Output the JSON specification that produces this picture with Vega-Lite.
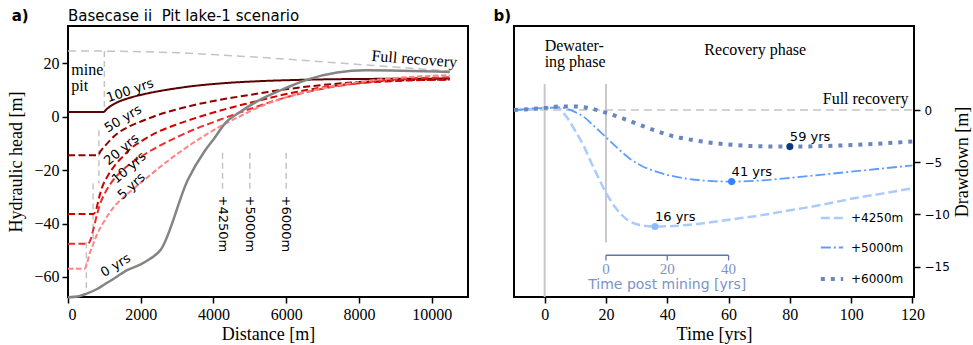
{
  "$schema": "https://vega.github.io/schema/vega-lite/v6.json",
  "padding": {"left": 6, "top": 8, "right": 0, "bottom": 0},
  "spacing": 23,
  "resolve": {"scale": {"color": "independent", "strokeDash": "independent", "fill": "independent"}, "legend": {"color": "independent", "strokeDash": "independent", "fill": "independent"}},
  "config": {
    "view": {"stroke": "#000000", "strokeWidth": 2},
    "axis": {"grid": false, "domain": false, "tickColor": "#000000", "tickWidth": 1.5, "tickSize": 6, "labelColor": "#000000", "titleColor": "#000000", "labelFont": "Liberation Serif", "labelFontSize": 16, "titleFont": "Liberation Serif", "titleFontSize": 18, "titleFontWeight": "normal", "labelPadding": 3, "titlePadding": 3},
    "legend": {"orient": "bottom-right", "offset": 10, "padding": 0, "symbolType": "stroke", "symbolSize": 500, "labelFont": "DejaVu Sans", "labelFontSize": 12, "labelColor": "#000000", "labelOffset": 13, "rowPadding": 17.5},
    "text": {"font": "DejaVu Sans", "fontSize": 13, "color": "#000000"}
  },
  "datasets": {
    "fullA": [
      {"x": 0, "y": 24.6}, {"x": 1000, "y": 24.6}, {"x": 2000, "y": 24.4}, {"x": 3000, "y": 24.0}, {"x": 4000, "y": 23.3}, {"x": 5000, "y": 22.5}, {"x": 6000, "y": 21.6}, {"x": 7000, "y": 20.6}, {"x": 8000, "y": 19.6}, {"x": 9000, "y": 18.6}, {"x": 10500, "y": 17.1}
    ],
    "pitA": [
      {"x": 1000, "y1": 24.6, "y2": 2},
      {"x": 850, "y1": -5, "y2": -25},
      {"x": 690, "y1": -25, "y2": -47},
      {"x": 505, "y1": -47, "y2": -65.5}
    ],
    "obsA": [
      {"x": 4250, "y1": -13.5, "y2": -27, "label": "+4250m"},
      {"x": 5000, "y1": -13.5, "y2": -27, "label": "+5000m"},
      {"x": 6000, "y1": -13.5, "y2": -27, "label": "+6000m"}
    ],
    "zeroA": [
      {"x": 0, "y": -67.6}, {"x": 300, "y": -67.2}, {"x": 500, "y": -66.3}, {"x": 800, "y": -64.5}, {"x": 1000, "y": -62.8}, {"x": 1300, "y": -60.3}, {"x": 1600, "y": -57.6}, {"x": 2000, "y": -55.3}, {"x": 2250, "y": -53.3}, {"x": 2550, "y": -49.8}, {"x": 3300, "y": -23.5}, {"x": 3750, "y": -13}, {"x": 4000, "y": -8.5}, {"x": 4350, "y": -2}, {"x": 4700, "y": 1.5}, {"x": 5300, "y": 6.5}, {"x": 6000, "y": 10.8}, {"x": 6600, "y": 14}, {"x": 8200, "y": 17.4}, {"x": 10500, "y": 16.8}
    ],
    "headA": [
      {"s": "100 yrs", "x": 0, "y": 1.8}, {"s": "100 yrs", "x": 980, "y": 1.8}, {"s": "100 yrs", "x": 1050, "y": 2.7}, {"s": "100 yrs", "x": 1150, "y": 3.8}, {"s": "100 yrs", "x": 1330, "y": 5.25}, {"s": "100 yrs", "x": 1700, "y": 7.1}, {"s": "100 yrs", "x": 2100, "y": 8.5}, {"s": "100 yrs", "x": 2500, "y": 9.6}, {"s": "100 yrs", "x": 3000, "y": 10.7}, {"s": "100 yrs", "x": 3500, "y": 11.6}, {"s": "100 yrs", "x": 4300, "y": 12.6}, {"s": "100 yrs", "x": 5200, "y": 13.3}, {"s": "100 yrs", "x": 6300, "y": 13.8}, {"s": "100 yrs", "x": 7500, "y": 14.1}, {"s": "100 yrs", "x": 10500, "y": 14.3},
      {"s": "50 yrs", "x": 0, "y": -14.4}, {"s": "50 yrs", "x": 820, "y": -14.4}, {"s": "50 yrs", "x": 900, "y": -12.8}, {"s": "50 yrs", "x": 1050, "y": -10.4}, {"s": "50 yrs", "x": 1300, "y": -6.9}, {"s": "50 yrs", "x": 1700, "y": -3.5}, {"s": "50 yrs", "x": 2000, "y": -1.8}, {"s": "50 yrs", "x": 2500, "y": 0.8}, {"s": "50 yrs", "x": 3000, "y": 2.8}, {"s": "50 yrs", "x": 3500, "y": 4.5}, {"s": "50 yrs", "x": 4000, "y": 5.9}, {"s": "50 yrs", "x": 4500, "y": 7.1}, {"s": "50 yrs", "x": 5000, "y": 8.2}, {"s": "50 yrs", "x": 5500, "y": 9.3}, {"s": "50 yrs", "x": 6000, "y": 10.3}, {"s": "50 yrs", "x": 7000, "y": 11.9}, {"s": "50 yrs", "x": 8000, "y": 13.0}, {"s": "50 yrs", "x": 9000, "y": 13.6}, {"s": "50 yrs", "x": 10500, "y": 13.9},
      {"s": "20 yrs", "x": 0, "y": -36.4}, {"s": "20 yrs", "x": 700, "y": -36.4}, {"s": "20 yrs", "x": 780, "y": -34.5}, {"s": "20 yrs", "x": 850, "y": -30.5}, {"s": "20 yrs", "x": 950, "y": -26}, {"s": "20 yrs", "x": 1100, "y": -22}, {"s": "20 yrs", "x": 1300, "y": -18}, {"s": "20 yrs", "x": 1500, "y": -15}, {"s": "20 yrs", "x": 1750, "y": -11.6}, {"s": "20 yrs", "x": 2000, "y": -9.3}, {"s": "20 yrs", "x": 2500, "y": -5.5}, {"s": "20 yrs", "x": 3000, "y": -2.8}, {"s": "20 yrs", "x": 3500, "y": -0.5}, {"s": "20 yrs", "x": 4000, "y": 1.6}, {"s": "20 yrs", "x": 4500, "y": 3.5}, {"s": "20 yrs", "x": 5000, "y": 5.2}, {"s": "20 yrs", "x": 5500, "y": 6.9}, {"s": "20 yrs", "x": 6000, "y": 8.5}, {"s": "20 yrs", "x": 7000, "y": 11.0}, {"s": "20 yrs", "x": 8000, "y": 12.6}, {"s": "20 yrs", "x": 9000, "y": 13.4}, {"s": "20 yrs", "x": 10500, "y": 14.0},
      {"s": "10 yrs", "x": 0, "y": -47.6}, {"s": "10 yrs", "x": 550, "y": -47.6}, {"s": "10 yrs", "x": 620, "y": -46}, {"s": "10 yrs", "x": 700, "y": -42}, {"s": "10 yrs", "x": 800, "y": -36.5}, {"s": "10 yrs", "x": 900, "y": -32}, {"s": "10 yrs", "x": 1000, "y": -29}, {"s": "10 yrs", "x": 1200, "y": -24.5}, {"s": "10 yrs", "x": 1500, "y": -20}, {"s": "10 yrs", "x": 2000, "y": -15}, {"s": "10 yrs", "x": 2500, "y": -11}, {"s": "10 yrs", "x": 3000, "y": -7.6}, {"s": "10 yrs", "x": 3500, "y": -4.6}, {"s": "10 yrs", "x": 4000, "y": -2.0}, {"s": "10 yrs", "x": 4500, "y": 0.5}, {"s": "10 yrs", "x": 5000, "y": 2.9}, {"s": "10 yrs", "x": 5500, "y": 5.2}, {"s": "10 yrs", "x": 6000, "y": 7.3}, {"s": "10 yrs", "x": 7000, "y": 10.5}, {"s": "10 yrs", "x": 8000, "y": 12.6}, {"s": "10 yrs", "x": 9000, "y": 14.0}, {"s": "10 yrs", "x": 10500, "y": 14.8},
      {"s": "5 yrs", "x": 0, "y": -56.9}, {"s": "5 yrs", "x": 450, "y": -56.9}, {"s": "5 yrs", "x": 520, "y": -55}, {"s": "5 yrs", "x": 600, "y": -51}, {"s": "5 yrs", "x": 700, "y": -47.5}, {"s": "5 yrs", "x": 800, "y": -44}, {"s": "5 yrs", "x": 1000, "y": -39}, {"s": "5 yrs", "x": 1250, "y": -34}, {"s": "5 yrs", "x": 1500, "y": -30.5}, {"s": "5 yrs", "x": 1800, "y": -27}, {"s": "5 yrs", "x": 2200, "y": -22.5}, {"s": "5 yrs", "x": 2700, "y": -17}, {"s": "5 yrs", "x": 3200, "y": -12}, {"s": "5 yrs", "x": 3700, "y": -7.5}, {"s": "5 yrs", "x": 4200, "y": -3.5}, {"s": "5 yrs", "x": 4700, "y": 0}, {"s": "5 yrs", "x": 5200, "y": 3.3}, {"s": "5 yrs", "x": 6000, "y": 7.3}, {"s": "5 yrs", "x": 7000, "y": 10.7}, {"s": "5 yrs", "x": 8000, "y": 13.0}, {"s": "5 yrs", "x": 9000, "y": 14.5}, {"s": "5 yrs", "x": 10500, "y": 15.6}
    ],
    "dd": [
      {"loc": "+4250m", "t": -10, "d": 0.0}, {"loc": "+4250m", "t": -5, "d": 0.1}, {"loc": "+4250m", "t": 0, "d": 0.2}, {"loc": "+4250m", "t": 4, "d": 0.25}, {"loc": "+4250m", "t": 7, "d": -0.6}, {"loc": "+4250m", "t": 10, "d": -2.0}, {"loc": "+4250m", "t": 13, "d": -3.6}, {"loc": "+4250m", "t": 15, "d": -4.9}, {"loc": "+4250m", "t": 17, "d": -6.15}, {"loc": "+4250m", "t": 20, "d": -7.9}, {"loc": "+4250m", "t": 23, "d": -9.3}, {"loc": "+4250m", "t": 25, "d": -10.0}, {"loc": "+4250m", "t": 28, "d": -10.7}, {"loc": "+4250m", "t": 31, "d": -11.0}, {"loc": "+4250m", "t": 36, "d": -11.15}, {"loc": "+4250m", "t": 42, "d": -11.1}, {"loc": "+4250m", "t": 50, "d": -10.9}, {"loc": "+4250m", "t": 60, "d": -10.5}, {"loc": "+4250m", "t": 70, "d": -10.1}, {"loc": "+4250m", "t": 80, "d": -9.6}, {"loc": "+4250m", "t": 90, "d": -9.1}, {"loc": "+4250m", "t": 100, "d": -8.5}, {"loc": "+4250m", "t": 110, "d": -8.0}, {"loc": "+4250m", "t": 120, "d": -7.5},
      {"loc": "+5000m", "t": -10, "d": 0.0}, {"loc": "+5000m", "t": 0, "d": 0.2}, {"loc": "+5000m", "t": 5, "d": 0.25}, {"loc": "+5000m", "t": 8, "d": 0.05}, {"loc": "+5000m", "t": 10, "d": -0.2}, {"loc": "+5000m", "t": 13, "d": -0.7}, {"loc": "+5000m", "t": 16, "d": -1.5}, {"loc": "+5000m", "t": 20, "d": -2.6}, {"loc": "+5000m", "t": 24, "d": -3.7}, {"loc": "+5000m", "t": 28, "d": -4.7}, {"loc": "+5000m", "t": 32, "d": -5.4}, {"loc": "+5000m", "t": 36, "d": -5.85}, {"loc": "+5000m", "t": 40, "d": -6.2}, {"loc": "+5000m", "t": 45, "d": -6.5}, {"loc": "+5000m", "t": 52, "d": -6.75}, {"loc": "+5000m", "t": 61, "d": -6.85}, {"loc": "+5000m", "t": 70, "d": -6.75}, {"loc": "+5000m", "t": 80, "d": -6.5}, {"loc": "+5000m", "t": 90, "d": -6.2}, {"loc": "+5000m", "t": 100, "d": -5.9}, {"loc": "+5000m", "t": 110, "d": -5.6}, {"loc": "+5000m", "t": 120, "d": -5.3},
      {"loc": "+6000m", "t": -10, "d": 0.0}, {"loc": "+6000m", "t": 0, "d": 0.2}, {"loc": "+6000m", "t": 5, "d": 0.35}, {"loc": "+6000m", "t": 10, "d": 0.35}, {"loc": "+6000m", "t": 15, "d": 0.15}, {"loc": "+6000m", "t": 20, "d": -0.25}, {"loc": "+6000m", "t": 25, "d": -0.75}, {"loc": "+6000m", "t": 30, "d": -1.3}, {"loc": "+6000m", "t": 35, "d": -1.85}, {"loc": "+6000m", "t": 40, "d": -2.35}, {"loc": "+6000m", "t": 50, "d": -2.95}, {"loc": "+6000m", "t": 60, "d": -3.3}, {"loc": "+6000m", "t": 70, "d": -3.47}, {"loc": "+6000m", "t": 80, "d": -3.5}, {"loc": "+6000m", "t": 90, "d": -3.45}, {"loc": "+6000m", "t": 100, "d": -3.35}, {"loc": "+6000m", "t": 110, "d": -3.2}, {"loc": "+6000m", "t": 120, "d": -3.0}
    ],
    "mins": [
      {"loc": "+4250m", "t": 36, "d": -11.15, "label": "16 yrs"},
      {"loc": "+5000m", "t": 61, "d": -6.85, "label": "41 yrs"},
      {"loc": "+6000m", "t": 80, "d": -3.5, "label": "59 yrs"}
    ],
    "phaseB": [
      {"t": 0, "y1": 2.5, "y2": -17.9},
      {"t": 20, "y1": 2.5, "y2": -12.67}
    ],
    "fullB": [{"t": -10, "d": 0}, {"t": 120, "d": 0}],
    "insetTicks": [{"t": 20, "label": "0"}, {"t": 40, "label": "20"}, {"t": 60, "label": "40"}]
  },
  "hconcat": [
    {
      "width": 400,
      "height": 271,
      "layer": [
        {
          "data": {"name": "fullA"},
          "mark": {"type": "line", "color": "#c4c4c4", "strokeWidth": 1.5, "strokeDash": [8, 5]},
          "encoding": {
            "x": {"field": "x", "type": "quantitative", "scale": {"domain": [0, 11000], "nice": false, "zero": false}, "axis": {"values": [0, 2000, 4000, 6000, 8000, 10000], "format": "d", "title": "Distance [m]"}},
            "y": {"field": "y", "type": "quantitative", "scale": {"domain": [-67.5, 34], "nice": false, "zero": false}, "axis": {"values": [-60, -40, -20, 0, 20], "title": "Hydraulic head [m]", "titlePadding": 8}}
          }
        },
        {
          "data": {"name": "pitA"},
          "mark": {"type": "rule", "color": "#c4c4c4", "strokeWidth": 1.5, "strokeDash": [6, 4]},
          "encoding": {"x": {"field": "x", "type": "quantitative"}, "y": {"field": "y1", "type": "quantitative"}, "y2": {"field": "y2"}}
        },
        {
          "data": {"name": "obsA"},
          "mark": {"type": "rule", "color": "#c4c4c4", "strokeWidth": 1.5, "strokeDash": [6, 4]},
          "encoding": {"x": {"field": "x", "type": "quantitative"}, "y": {"field": "y1", "type": "quantitative"}, "y2": {"field": "y2"}}
        },
        {
          "data": {"name": "obsA"},
          "mark": {"type": "text", "angle": 90, "align": "left", "baseline": "middle", "fontSize": 13},
          "encoding": {"x": {"field": "x", "type": "quantitative"}, "y": {"datum": -29.5, "type": "quantitative"}, "text": {"field": "label"}}
        },
        {
          "data": {"name": "headA"},
          "mark": {"type": "line", "interpolate": "monotone"},
          "encoding": {
            "x": {"field": "x", "type": "quantitative"},
            "y": {"field": "y", "type": "quantitative"},
            "color": {"field": "s", "type": "nominal", "scale": {"domain": ["5 yrs", "10 yrs", "20 yrs", "50 yrs", "100 yrs"], "range": ["#ff8585", "#ee2a2a", "#d40000", "#8e0000", "#5a0202"]}, "legend": null},
            "strokeDash": {"field": "s", "type": "nominal", "scale": {"domain": ["5 yrs", "10 yrs", "20 yrs", "50 yrs", "100 yrs"], "range": [[5.5, 2.5], [7, 3.5], [7, 3.5], [7, 3.5], [1, 0]]}, "legend": null}
          }
        },
        {
          "data": {"name": "zeroA"},
          "mark": {"type": "line", "color": "#848484", "strokeWidth": 2.5, "interpolate": "monotone"},
          "encoding": {"x": {"field": "x", "type": "quantitative"}, "y": {"field": "y", "type": "quantitative"}}
        },
        {
          "data": {"values": [{"x": 1707, "y": 9.8, "label": "100 yrs"}]},
          "mark": {"type": "text", "angle": -19, "align": "center", "baseline": "middle"},
          "encoding": {"x": {"field": "x", "type": "quantitative"}, "y": {"field": "y", "type": "quantitative"}, "text": {"field": "label"}}
        },
        {
          "data": {"values": [{"x": 1514, "y": -0.75, "label": "50 yrs"}]},
          "mark": {"type": "text", "angle": -31, "align": "center", "baseline": "middle"},
          "encoding": {"x": {"field": "x", "type": "quantitative"}, "y": {"field": "y", "type": "quantitative"}, "text": {"field": "label"}}
        },
        {
          "data": {"values": [{"x": 1473, "y": -12.3, "label": "20 yrs"}]},
          "mark": {"type": "text", "angle": -40, "align": "center", "baseline": "middle"},
          "encoding": {"x": {"field": "x", "type": "quantitative"}, "y": {"field": "y", "type": "quantitative"}, "text": {"field": "label"}}
        },
        {
          "data": {"values": [{"x": 1679, "y": -19.1, "label": "10 yrs"}]},
          "mark": {"type": "text", "angle": -41, "align": "center", "baseline": "middle"},
          "encoding": {"x": {"field": "x", "type": "quantitative"}, "y": {"field": "y", "type": "quantitative"}, "text": {"field": "label"}}
        },
        {
          "data": {"values": [{"x": 1748, "y": -26, "label": "5 yrs"}]},
          "mark": {"type": "text", "angle": -43, "align": "center", "baseline": "middle"},
          "encoding": {"x": {"field": "x", "type": "quantitative"}, "y": {"field": "y", "type": "quantitative"}, "text": {"field": "label"}}
        },
        {
          "data": {"values": [{"x": 1313, "y": -55.7, "label": "0 yrs"}]},
          "mark": {"type": "text", "angle": -31.5, "align": "center", "baseline": "middle"},
          "encoding": {"x": {"field": "x", "type": "quantitative"}, "y": {"field": "y", "type": "quantitative"}, "text": {"field": "label"}}
        },
        {
          "data": {"values": [{"x": 9524, "y": 21.6, "label": "Full recovery"}]},
          "mark": {"type": "text", "angle": 4.5, "align": "center", "baseline": "middle", "font": "Liberation Serif", "fontSize": 16},
          "encoding": {"x": {"field": "x", "type": "quantitative"}, "y": {"field": "y", "type": "quantitative"}, "text": {"field": "label"}}
        },
        {
          "data": {"values": [{"x": 90, "y": 15.6, "label": ["mine", "pit"]}]},
          "mark": {"type": "text", "align": "left", "baseline": "alphabetic", "font": "Liberation Serif", "fontSize": 16, "lineHeight": 16},
          "encoding": {"x": {"field": "x", "type": "quantitative"}, "y": {"field": "y", "type": "quantitative"}, "text": {"field": "label"}}
        },
        {
          "data": {"values": [{"x": 0, "y": 37.6, "label": "Basecase ii\u00a0 Pit lake-1 scenario"}]},
          "mark": {"type": "text", "align": "left", "baseline": "middle", "fontSize": 15},
          "encoding": {"x": {"field": "x", "type": "quantitative"}, "y": {"field": "y", "type": "quantitative"}, "text": {"field": "label"}}
        },
        {
          "data": {"values": [{"x": -1550, "y": 37.6, "label": "a)"}]},
          "mark": {"type": "text", "align": "left", "baseline": "middle", "fontSize": 15, "fontWeight": "bold"},
          "encoding": {"x": {"field": "x", "type": "quantitative"}, "y": {"field": "y", "type": "quantitative"}, "text": {"field": "label"}}
        }
      ]
    },
    {
      "width": 400,
      "height": 271,
      "layer": [
        {
          "data": {"name": "fullB"},
          "mark": {"type": "line", "color": "#c4c4c4", "strokeWidth": 1.5, "strokeDash": [8, 5]},
          "encoding": {
            "x": {"field": "t", "type": "quantitative", "scale": {"domain": [-10, 120.5], "nice": false, "zero": false}, "axis": {"values": [0, 20, 40, 60, 80, 100, 120], "title": "Time [yrs]"}},
            "y": {"field": "d", "type": "quantitative", "scale": {"domain": [-17.9, 8.05], "nice": false, "zero": false}, "axis": {"orient": "right", "values": [0, -5, -10, -15], "labelFont": "DejaVu Sans", "labelFontSize": 12, "labelPadding": 4, "title": "Drawdown [m]", "titleAngle": 270, "titleBaseline": "top", "titlePadding": 4}}
          }
        },
        {
          "data": {"name": "phaseB"},
          "mark": {"type": "rule", "color": "#c8c8c8", "strokeWidth": 2},
          "encoding": {"x": {"field": "t", "type": "quantitative"}, "y": {"field": "y1", "type": "quantitative"}, "y2": {"field": "y2"}}
        },
        {
          "data": {"name": "dd"},
          "transform": [{"filter": "datum.loc === '+4250m'"}],
          "mark": {"type": "line", "interpolate": "monotone", "strokeDash": [9, 4], "strokeWidth": 2.5},
          "encoding": {
            "x": {"field": "t", "type": "quantitative"},
            "y": {"field": "d", "type": "quantitative"},
            "color": {"field": "loc", "type": "nominal", "scale": {"domain": ["+4250m", "+5000m", "+6000m"], "range": ["#a9cbff", "#5c9dff", "#6a86bf"]}, "legend": {"title": null, "rowPadding": 17.5, "offset": 10, "encode": {"symbols": {"update": {"strokeDash": {"signal": "datum.value === '+4250m' ? [9, 4] : datum.value === '+5000m' ? [10, 3, 2, 3] : [4, 6]"}, "strokeWidth": {"signal": "datum.value === '+6000m' ? 4 : datum.value === '+5000m' ? 1.8 : 2.5"}}}}}}
          }
        },
        {
          "data": {"name": "dd"},
          "transform": [{"filter": "datum.loc === '+5000m'"}],
          "mark": {"type": "line", "interpolate": "monotone", "strokeDash": [10, 3, 2, 3], "strokeWidth": 1.8},
          "encoding": {
            "x": {"field": "t", "type": "quantitative"},
            "y": {"field": "d", "type": "quantitative"},
            "color": {"field": "loc", "type": "nominal"}
          }
        },
        {
          "data": {"name": "dd"},
          "transform": [{"filter": "datum.loc === '+6000m'"}],
          "mark": {"type": "line", "interpolate": "monotone", "strokeDash": [4, 6], "strokeWidth": 4},
          "encoding": {
            "x": {"field": "t", "type": "quantitative"},
            "y": {"field": "d", "type": "quantitative"},
            "color": {"field": "loc", "type": "nominal"}
          }
        },
        {
          "data": {"name": "mins"},
          "mark": {"type": "point", "filled": true, "opacity": 1, "size": 50, "strokeWidth": 0},
          "encoding": {
            "x": {"field": "t", "type": "quantitative"},
            "y": {"field": "d", "type": "quantitative"},
            "fill": {"field": "loc", "type": "nominal", "scale": {"domain": ["+4250m", "+5000m", "+6000m"], "range": ["#8dbbff", "#2e83ff", "#0b3786"]}, "legend": null}
          }
        },
        {
          "data": {"name": "mins"},
          "mark": {"type": "text", "align": "left", "baseline": "middle", "dy": -10, "dx": 0},
          "encoding": {"x": {"field": "t", "type": "quantitative"}, "y": {"field": "d", "type": "quantitative"}, "text": {"field": "label"}}
        },
        {
          "data": {"values": [{"t1": 20, "t2": 60}]},
          "mark": {"type": "rule", "color": "#5b74b3", "strokeWidth": 1.3},
          "encoding": {"x": {"field": "t1", "type": "quantitative"}, "x2": {"field": "t2"}, "y": {"datum": -13.9, "type": "quantitative"}}
        },
        {
          "data": {"name": "insetTicks"},
          "mark": {"type": "rule", "color": "#5b74b3", "strokeWidth": 1.3},
          "encoding": {"x": {"field": "t", "type": "quantitative"}, "y": {"datum": -13.9, "type": "quantitative"}, "y2": {"datum": -14.4}}
        },
        {
          "data": {"name": "insetTicks"},
          "mark": {"type": "text", "align": "center", "baseline": "middle", "font": "Liberation Serif", "fontSize": 15, "color": "#7b93c9"},
          "encoding": {"x": {"field": "t", "type": "quantitative"}, "y": {"datum": -15.2, "type": "quantitative"}, "text": {"field": "label"}}
        },
        {
          "data": {"values": [{"t": 40, "label": "Time post mining [yrs]"}]},
          "mark": {"type": "text", "align": "center", "baseline": "middle", "fontSize": 14, "color": "#7b93c9"},
          "encoding": {"x": {"field": "t", "type": "quantitative"}, "y": {"datum": -16.75, "type": "quantitative"}, "text": {"field": "label"}}
        },
        {
          "data": {"values": [{"t": 0, "d": 5.65, "label": ["Dewater-", "ing phase"]}]},
          "mark": {"type": "text", "align": "left", "baseline": "alphabetic", "font": "Liberation Serif", "fontSize": 16, "lineHeight": 16},
          "encoding": {"x": {"field": "t", "type": "quantitative"}, "y": {"field": "d", "type": "quantitative"}, "text": {"field": "label"}}
        },
        {
          "data": {"values": [{"t": 68.7, "d": 5.25, "label": "Recovery phase"}]},
          "mark": {"type": "text", "align": "center", "baseline": "alphabetic", "font": "Liberation Serif", "fontSize": 16},
          "encoding": {"x": {"field": "t", "type": "quantitative"}, "y": {"field": "d", "type": "quantitative"}, "text": {"field": "label"}}
        },
        {
          "data": {"values": [{"t": 118.7, "d": 0.6, "label": "Full recovery"}]},
          "mark": {"type": "text", "align": "right", "baseline": "alphabetic", "font": "Liberation Serif", "fontSize": 16},
          "encoding": {"x": {"field": "t", "type": "quantitative"}, "y": {"field": "d", "type": "quantitative"}, "text": {"field": "label"}}
        },
        {
          "data": {"values": [{"t": -16.7, "d": 8.96, "label": "b)"}]},
          "mark": {"type": "text", "align": "left", "baseline": "middle", "fontSize": 15, "fontWeight": "bold"},
          "encoding": {"x": {"field": "t", "type": "quantitative"}, "y": {"field": "d", "type": "quantitative"}, "text": {"field": "label"}}
        }
      ]
    }
  ]
}
